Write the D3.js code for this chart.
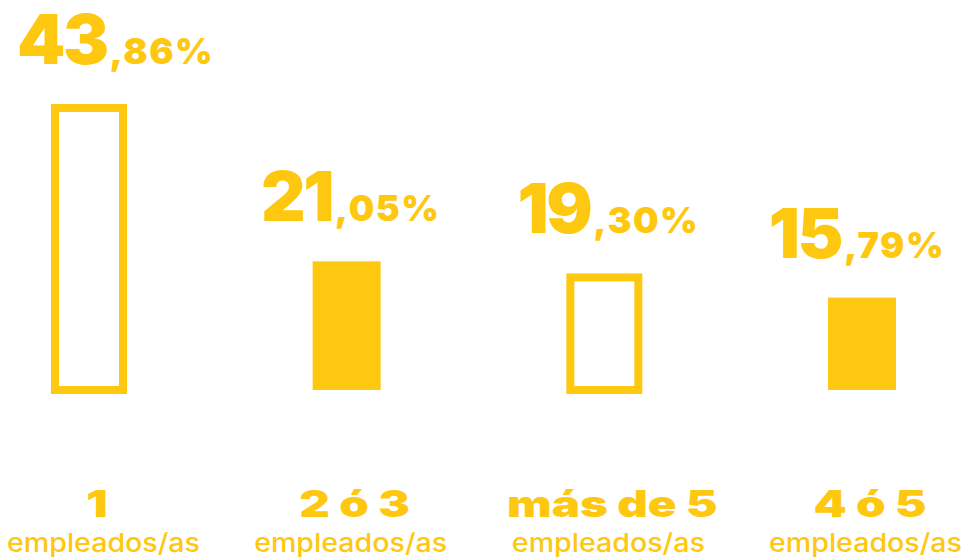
<!DOCTYPE html>
<html><head><meta charset="utf-8">
<script src="https://cdn.jsdelivr.net/npm/d3@7"></script>
<style>
html,body{margin:0;padding:0;background:#fff;}
svg{display:block;}
</style></head>
<body>
<svg id="chart" width="969" height="558"></svg>
<script>
const categories = ["1", "2 ó 3", "más de 5", "4 ó 5"];
const subLabels = ["empleados/as", "empleados/as", "empleados/as", "empleados/as"];
const values = [43.86, 21.05, 19.30, 15.79];
const outlined = [true, false, true, false];

const W = 969;
const color = "#FEC810";
const svg = d3.select("#chart");

const x = d3.scalePoint().domain(categories).range([89, 862]);
const y = d3.scaleLinear().domain([2.4, 43.86]).range([390, 104]);
const barW = 68, sw = 8;

function clampCenter(sel, cx, minLeft, maxRight) {
  const bb = sel.node().getBBox();
  const half = bb.width / 2;
  let c = cx;
  if (c - half < minLeft) c = minLeft + half;
  if (c + half > maxRight) c = maxRight - half;
  return c;
}

const g = svg.append("g");
categories.forEach((c, i) => {
  const cx = x(c), v = values[i];
  const top = y(v), base = y.range()[0];
  if (outlined[i]) {
    g.append("rect")
      .attr("x", cx - barW / 2).attr("y", top + sw / 2)
      .attr("width", barW).attr("height", base - top - sw / 2)
      .attr("fill", "none").attr("stroke", color).attr("stroke-width", sw);
  } else {
    g.append("rect")
      .attr("x", cx - barW / 2).attr("y", top)
      .attr("width", barW).attr("height", base - top)
      .attr("fill", color);
  }
  const parts = v.toFixed(2).split(".");
  const t = g.append("text")
    .attr("x", cx + 4).attr("y", top - 40)
    .attr("text-anchor", "middle")
    .attr("fill", color)
    .style("font-family", "Inter, 'DejaVu Sans', sans-serif")
    .style("font-weight", 900);
  t.append("tspan").text(parts[0]).style("font-size", "69px").style("letter-spacing", "-2.5px");
  t.append("tspan").text("," + parts[1] + "%").attr("dx", 3).style("font-size", "36px").style("letter-spacing", "1.5px");
  t.attr("x", clampCenter(t, cx + 4, 17, W - 24));

  const lg = g.append("g").attr("transform", `translate(${cx + 8},517) scale(1.28,1)`);
  lg.append("text")
    .attr("x", 0).attr("y", 0)
    .attr("text-anchor", "middle").attr("fill", color)
    .style("font-family", "Inter, 'DejaVu Sans', sans-serif")
    .style("font-weight", 900).style("font-size", "37px")
    .text(c);
  const s = g.append("text")
    .attr("x", cx + 4).attr("y", 552)
    .attr("text-anchor", "middle").attr("fill", color)
    .style("font-family", "Inter, 'Open Sans', sans-serif")
    .style("font-weight", 500).style("font-size", "26px")
    .attr("textLength", 193).attr("lengthAdjust", "spacingAndGlyphs")
    .text(subLabels[i]);
  s.attr("x", clampCenter(s, cx + 4, 7, W - 7));
});
</script>
</body></html>
